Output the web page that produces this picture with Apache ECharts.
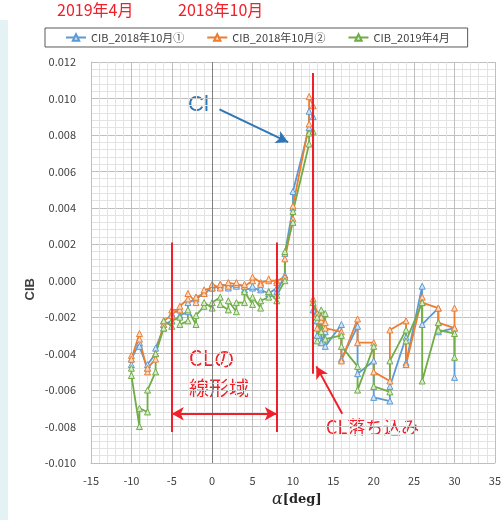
<!DOCTYPE html>
<html>
<head>
<meta charset="utf-8">
<script src="https://cdn.jsdelivr.net/npm/echarts@6/dist/echarts.min.js"></script>
<style>
  html, body { margin: 0; padding: 0; background: #fff; }
  #chart { width: 504px; height: 520px; }
</style>
</head>
<body>
<div id="chart"></div>
<script>
// 迎角
const alphas = [-10, -9, -8, -7, -6, -5, -4, -3, -2, -1, 0, 1, 2, 3, 4, 5, 6, 7, 8, 9, 10, 12, 12.5, 13, 13.5, 14, 16, 18, 20, 22, 24, 26, 28, 30];

// CIB_2018年10月① (each alpha: measured values in order)
const cib2018a = [
  [-0.0046, -0.0043], [-0.0034, -0.0036], [-0.0048, -0.0046], [-0.0040, -0.0037], [-0.0026, -0.0024],
  [-0.0022, -0.0018], [-0.0016, -0.0019], [-0.0017, -0.0012], [-0.0010, -0.0009], [-0.0007, -0.0006],
  [-0.0004, -0.0003], [-0.0003, -0.0002], [-0.0002, -0.0004], [-0.0002, -0.0003], [-0.0003, -0.0005],
  [-0.0004, -0.0003], [-0.0005, -0.0004], [-0.0007, -0.0006], [-0.0004, -0.0006], [0.0003, 0.0015],
  [0.0040, 0.0049], [0.0084, 0.0093], [0.0090, -0.0016], [-0.0022, -0.0030], [-0.0020, -0.0034],
  [-0.0028, -0.0036], [-0.0024, -0.0043], [-0.0025, -0.0051], [-0.0044, -0.0064], [-0.0066, -0.0058],
  [-0.0031, -0.0045], [-0.0003, -0.0024], [-0.0015, -0.0028], [-0.0026, -0.0053]
];

// CIB_2018年10月②
const cib2018b = [
  [-0.0041, -0.0043], [-0.0029, -0.0032], [-0.0050, -0.0048], [-0.0043, -0.0040], [-0.0024, -0.0022],
  [-0.0019, -0.0016], [-0.0016, -0.0014], [-0.0010, -0.0007], [-0.0012, -0.0009], [-0.0007, -0.0005],
  [-0.0004, -0.0002], [-0.0004, -0.0002], [-0.0003, -0.0001], [-0.0002, -0.0001], [-0.0003, -0.0002],
  [0.0000, 0.0002], [-0.0001, -0.0002], [0.0000, 0.0001], [0.0000, -0.0001], [0.0002, 0.0012],
  [0.0034, 0.0041], [0.0086, 0.0101], [0.0096, -0.0010], [-0.0018, -0.0026], [-0.0022, -0.0020],
  [-0.0023, -0.0026], [-0.0028, -0.0044], [-0.0021, -0.0034], [-0.0034, -0.0050], [-0.0055, -0.0027],
  [-0.0022, -0.0046], [-0.0009, -0.0012], [-0.0015, -0.0023], [-0.0026, -0.0015]
];

// CIB_2019年4月
const cib2019 = [
  [-0.0048, -0.0052], [-0.0080, -0.0070], [-0.0072, -0.0060], [-0.0050, -0.0040], [-0.0026, -0.0022],
  [-0.0025, -0.0022], [-0.0020, -0.0024], [-0.0022, -0.0016], [-0.0024, -0.0019], [-0.0014, -0.0012],
  [-0.0015, -0.0012], [-0.0009, -0.0013], [-0.0016, -0.0011], [-0.0017, -0.0012], [-0.0012, -0.0006],
  [-0.0013, -0.0009], [-0.0015, -0.0011], [-0.0009, -0.0006], [-0.0011, -0.0008], [0.0000, 0.0016],
  [0.0032, 0.0038], [0.0075, 0.0081], [0.0082, -0.0012], [-0.0020, -0.0033], [-0.0016, -0.0028],
  [-0.0018, -0.0032], [-0.0030, -0.0036], [-0.0047, -0.0060], [-0.0036, -0.0058], [-0.0061, -0.0044],
  [-0.0027, -0.0033], [-0.0012, -0.0055], [-0.0023, -0.0027], [-0.0029, -0.0042]
];

const seriesNames = ["CIB_2018年10月①", "CIB_2018年10月②", "CIB_2019年4月"];
const colors = ["#5b9bd5", "#ed7d31", "#70ad47"];
const fills = ["#cfe2f3", "#fbd9c2", "#d6eacb"];

const RED = "#f0202a";
const FONT = "'Noto Sans CJK JP', 'Noto Sans', sans-serif";

function toPoints(groups) {
  const pts = [];
  groups.forEach((vals, i) => {
    vals.forEach((v) => pts.push([alphas[i], v]));
  });
  return pts;
}

const chart = echarts.init(document.getElementById("chart"));

function lineSeries(name, data, idx) {
  return {
    name: name,
    type: "line",
    data: toPoints(data),
    symbol: "triangle",
    symbolSize: 6,
    z: 3,
    lineStyle: { color: colors[idx], width: 1.8 },
    itemStyle: { color: fills[idx], borderColor: colors[idx], borderWidth: 1 },
  };
}

function markSeries(lines, color, width, symbol, z) {
  return {
    type: "line",
    data: [],
    silent: true,
    z: z,
    markLine: {
      silent: true,
      symbol: symbol,
      symbolSize: [10, 12],
      label: { show: false },
      lineStyle: { color: color, width: width, type: "solid" },
      data: lines.map((l) => [{ coord: l[0] }, { coord: l[1] }]),
      animation: false,
    },
  };
}

function note(text, left, top, size, color) {
  return {
    type: "text",
    left: left,
    top: top,
    style: { text: text, fill: color, font: size + "px " + FONT },
  };
}

const option = {
  animation: false,
  textStyle: { fontFamily: FONT },
  legend: {
    data: seriesNames,
    left: 45,
    top: 28,
    itemWidth: 20,
    itemHeight: 8,
    itemGap: 22,
    padding: [4, 18, 4, 20],
    borderColor: "#595959",
    borderWidth: 1,
    borderRadius: 0,
    textStyle: { color: "#404040", fontSize: 11, fontFamily: FONT },
  },
  grid: { left: 91, right: 9, top: 62, bottom: 57 },
  xAxis: {
    type: "value",
    min: -15,
    max: 35,
    interval: 5,
    axisLine: { show: true, onZero: false, lineStyle: { color: "#bfbfbf" } },
    axisTick: { show: false },
    axisLabel: { color: "#404040", fontSize: 11, margin: 12 },
    splitLine: { show: true, lineStyle: { color: "#bfbfbf", width: 1 } },
    minorTick: { show: false, splitNumber: 5 },
    minorSplitLine: { show: true, lineStyle: { color: "#e3e3e3", width: 1 } },
  },
  yAxis: {
    type: "value",
    min: -0.010,
    max: 0.012,
    interval: 0.002,
    axisLine: { show: true, onZero: false, lineStyle: { color: "#bfbfbf" } },
    axisTick: { show: false },
    axisLabel: {
      color: "#404040",
      fontSize: 11,
      margin: 15,
      formatter: (v) => v.toFixed(3),
    },
    splitLine: { show: true, lineStyle: { color: "#bfbfbf", width: 1 } },
    minorTick: { show: false, splitNumber: 5 },
    minorSplitLine: { show: true, lineStyle: { color: "#e3e3e3", width: 1 } },
  },
  series: [
    markSeries([[[0, -0.010], [0, 0.012]]], "#7f7f7f", 1, "none", 1),
    lineSeries(seriesNames[0], cib2018a, 0),
    lineSeries(seriesNames[1], cib2018b, 1),
    lineSeries(seriesNames[2], cib2019, 2),
    // 赤の縦線
    markSeries(
      [
        [[-5, 0.0021], [-5, -0.0083]],
        [[8, 0.0021], [8, -0.0083]],
        [[12.5, 0.0114], [12.5, -0.0051]],
      ],
      RED, 2, "none", 5
    ),
    // 線形域の矢印
    markSeries([[[-5, -0.0073], [8, -0.0073]]], RED, 2, ["arrow", "arrow"], 5),
    // CL落ち込みの矢印
    markSeries([[[16.1, -0.0073], [12.9, -0.0047]]], RED, 2, ["none", "arrow"], 5),
    // Cl の矢印
    markSeries([[[0.9, 0.0094], [9.4, 0.0076]]], "#2e75b6", 2, ["none", "arrow"], 5),
  ],
  graphic: [
    { type: "rect", left: 0, top: 20, shape: { width: 8, height: 500 }, style: { fill: "#e4f2f6" } },
    note("2019年4月", 57, 2, 16, RED),
    note("2018年10月", 178, 2, 16, RED),
    { type: "text", left: 188, top: 94, style: { text: "Cl", fill: "#2e75b6", font: "22px 'Liberation Sans', sans-serif" } },
    note("CLの", 189, 348, 21, RED),
    note("線形域", 189, 378, 20, RED),
    note("CL落ち込み", 326, 418, 18, RED),
    {
      type: "text",
      left: 24,
      top: 278,
      rotation: Math.PI / 2,
      style: { text: "CIB", fill: "#404040", font: "bold 13px 'Liberation Sans', sans-serif" },
    },
    {
      type: "text",
      left: 272,
      top: 492,
      style: {
        text: "{a|α}{b|[deg]}",
        rich: {
          a: { fontFamily: "'DejaVu Serif', serif", fontStyle: "italic", fontSize: 16, fill: "#262626" },
          b: { fontFamily: "'DejaVu Serif', serif", fontWeight: "bold", fontSize: 13, fill: "#262626" },
        },
      },
    },
  ],
};

chart.setOption(option);
window.onresize = chart.resize;
</script>
</body>
</html>
